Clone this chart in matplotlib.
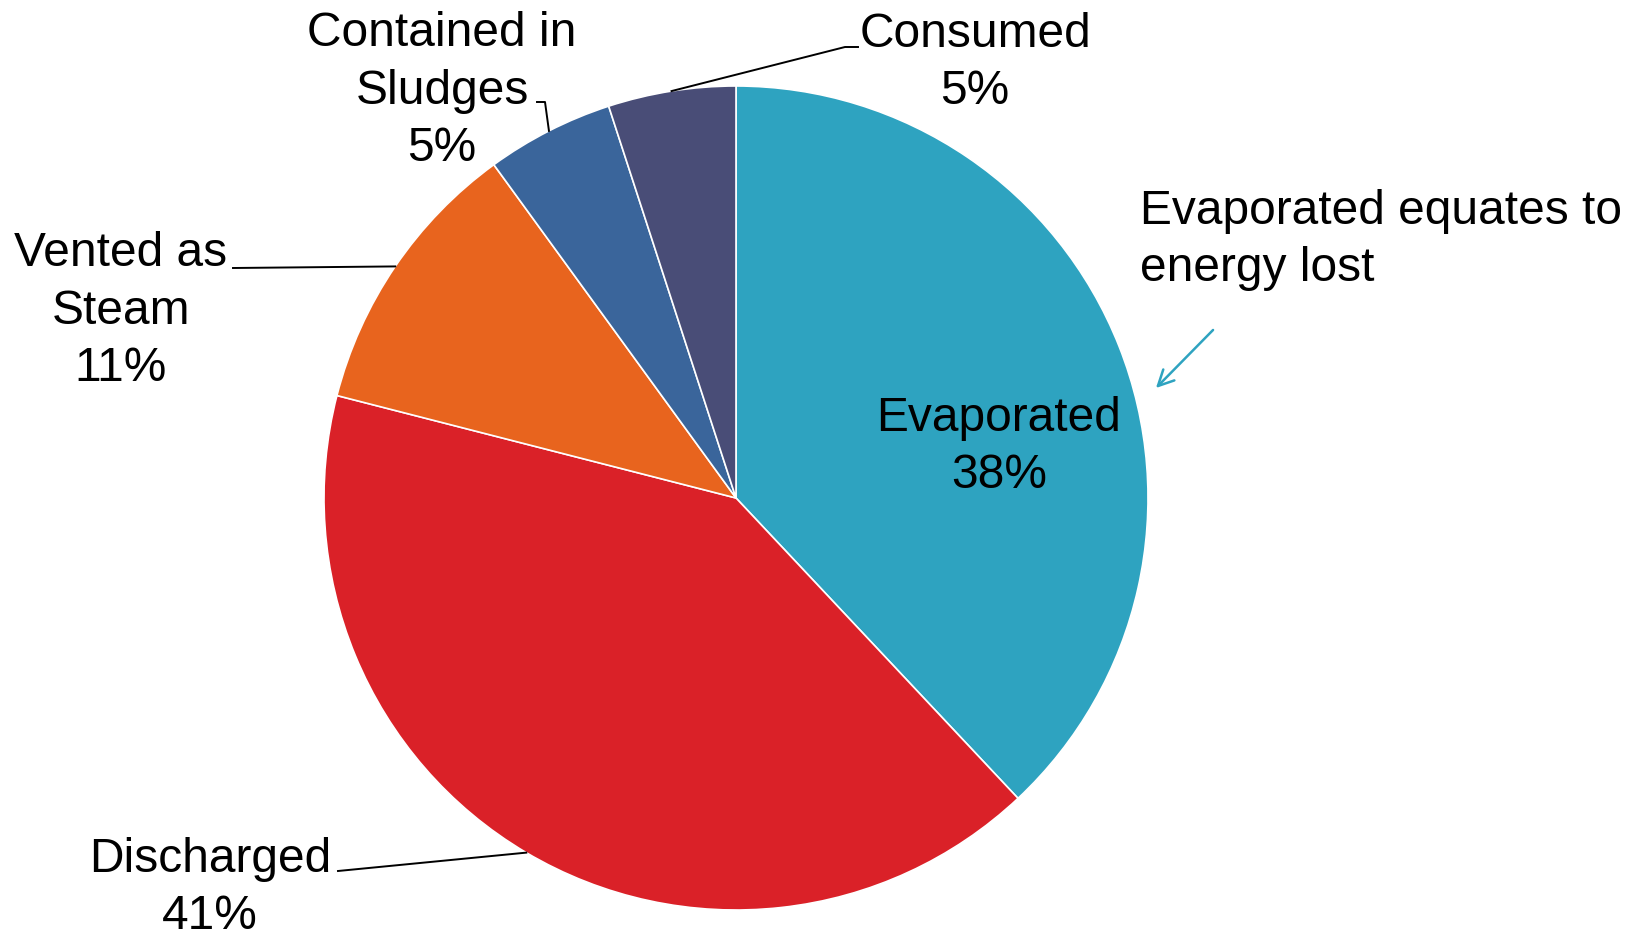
import numpy as np
import matplotlib
matplotlib.use('Agg')
import matplotlib.pyplot as plt

plt.rcParams['font.family'] = ['Liberation Sans', 'DejaVu Sans']

# water use breakdown, clockwise from 12 o'clock
labels = ['Evaporated', 'Discharged', 'Vented as\nSteam', 'Contained in\nSludges', 'Consumed']
values = [38, 41, 11, 5, 5]
colors = ['#2EA3C0', '#DA2128', '#E8641E', '#3A659B', '#494D77']

W, H = 1645, 931
fig = plt.figure(figsize=(W / 100, H / 100), dpi=100)
ax = fig.add_axes([0, 0, 1, 1])

cx, cy, r = 736, H - 498, 412
wedges, _ = ax.pie(values, colors=colors, startangle=90, counterclock=False,
                   center=(cx, cy), radius=r, frame=True,
                   wedgeprops=dict(edgecolor='white', linewidth=1.2))
ax.set_xlim(0, W)
ax.set_ylim(0, H)
ax.axis('off')
ax.set_aspect('equal')

fs = 34.5
ls = 1.37

def edge_point(w):
    a = np.deg2rad((w.theta1 + w.theta2) / 2)
    return cx + r * np.cos(a), cy + r * np.sin(a)

# label text positions (pixel layout, y from top)
label_pos = [(999, 447), (210, 888), (121, 311), (442, 91), (975, 63)]
for i, (lab, v) in enumerate(zip(labels, values)):
    x, y = label_pos[i]
    ax.text(x, H - y, f'{lab}\n{v}%', ha='center', va='center', fontsize=fs,
            linespacing=ls, color='black')

# leader lines
ex, ey = edge_point(wedges[1])
ax.plot([ex, 338], [ey, H - 871], color='black', lw=1.4)
ex, ey = edge_point(wedges[2])
ax.plot([ex, 233], [ey, H - 268], color='black', lw=1.4)
ex, ey = edge_point(wedges[3])
ax.plot([ex, 545, 537], [ey, H - 102, H - 102], color='black', lw=1.4)
ex, ey = edge_point(wedges[4])
ax.plot([ex, 845, 858], [ey, H - 47, H - 47], color='black', lw=1.4)

# note with arrow
ax.text(1140, H - 240, 'Evaporated equates to\nenergy lost', ha='left', va='center',
        fontsize=fs, linespacing=ls, color='black')
ax.annotate('', xy=(1154, H - 390), xytext=(1215, H - 328),
            arrowprops=dict(arrowstyle='->', color=colors[0], lw=1.8,
                            mutation_scale=28))

fig.savefig('out.png', dpi=100)
